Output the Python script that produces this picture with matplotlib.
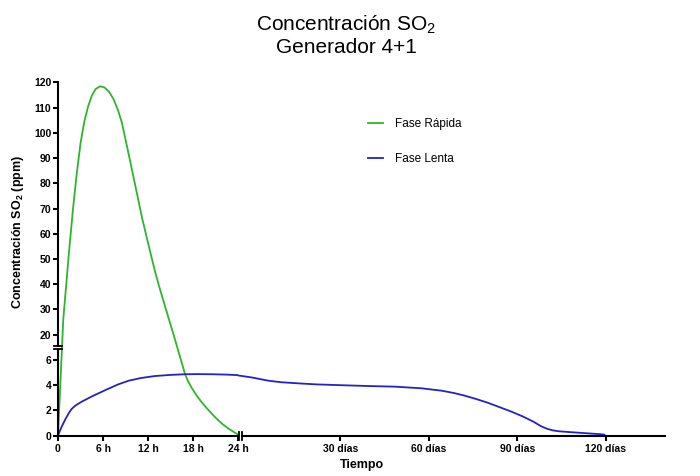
import numpy as np
import matplotlib
matplotlib.use('Agg')
import matplotlib.pyplot as plt
from matplotlib.transforms import blended_transform_factory as blend

plt.rcParams['font.family'] = ['Liberation Sans', 'DejaVu Sans']
plt.rcParams['mathtext.fontset'] = 'custom'
plt.rcParams['mathtext.rm'] = 'Liberation Sans'
plt.rcParams['mathtext.bf'] = 'Liberation Sans:bold'

# datos
green_h = [0, 0.7, 1.1, 1.5, 2.0, 2.5, 3.0, 3.5, 4.0, 4.5, 5.0, 5.6, 6.2, 6.8,
           7.4, 8.0, 8.5, 8.9, 9.4, 10.0, 10.6, 11.2, 11.8, 12.3, 12.9, 13.4,
           14.4, 15.36, 16.9, 17.3, 17.8, 18.4, 19.0, 19.6, 20.2, 20.9, 21.8,
           22.7, 23.4, 24.0]
green_v = [0, 26, 40, 54, 70, 84, 96, 104.5, 110.5, 114.8, 117.4, 118.5, 118,
           116.3, 113.3, 108.8, 104, 98.5, 91.5, 83, 74.5, 66, 58.5, 52.3, 45,
           39.6, 29.5, 20, 4.85, 4.3, 3.75, 3.2, 2.72, 2.29, 1.9, 1.45, 0.95,
           0.55, 0.28, 0.07]

blue_h = [0, 0.4, 0.93, 1.4, 1.8, 2.2, 2.5, 3.2, 4.5, 6.3, 8.0, 9.4, 11.0, 12.9,
          15.0, 16.9, 18.5, 20.5, 22.5, 24.0]
blue_hv = [0, 0.6, 1.24, 1.75, 2.1, 2.32, 2.45, 2.7, 3.1, 3.6, 4.05, 4.34, 4.55,
           4.71, 4.8, 4.85, 4.86, 4.85, 4.82, 4.78]

blue_d = [-4.4, 0, 5.7, 10, 15.9, 22, 28.3, 39.6, 48.6, 57.6, 64.4, 68.3, 72,
          76, 80, 84, 88, 92, 95.5, 98, 100, 102, 104, 108, 113, 118, 119.5]
blue_dv = [4.75, 4.6, 4.34, 4.22, 4.13, 4.05, 4.0, 3.92, 3.87, 3.74, 3.55, 3.38,
           3.17, 2.9, 2.6, 2.25, 1.9, 1.5, 1.1, 0.75, 0.55, 0.42, 0.35, 0.28,
           0.2, 0.12, 0.08]

h_ticks = [0, 6, 12, 18, 24]
h_labels = ['0', '6 h', '12 h', '18 h', '24 h']
d_ticks = [30, 60, 90, 120]
d_labels = ['30 días', '60 días', '90 días', '120 días']
y_ticks = [0, 2, 4, 6, 20, 30, 40, 50, 60, 70, 80, 90, 100, 110, 120]

GREEN = '#2db52d'
BLUE = '#2222c8'

# eje y cortado: 0-6.82 abajo, 15.56-120 arriba
LO, HI = 6.82, 15.56
A, G, B = 12.67, 3.6 / (HI - LO), 2.52


def y_fwd(v):
    v = np.asarray(v, dtype=float)
    return np.where(v <= LO, v * A,
                    np.where(v <= HI, LO * A + (v - LO) * G,
                             LO * A + (HI - LO) * G + (v - HI) * B))


def y_inv(p):
    p = np.asarray(p, dtype=float)
    p1 = LO * A
    p2 = p1 + (HI - LO) * G
    return np.where(p <= p1, p / A,
                    np.where(p <= p2, LO + (p - p1) / G, HI + (p - p2) / B))


fig = plt.figure(figsize=(7, 4.76), dpi=100)
bottom = 1 - 435.7 / 476
height = (435.7 - 82.5) / 476
ax1 = fig.add_axes([58 / 700, bottom, (238.5 - 58) / 700, height])
ax2 = fig.add_axes([242 / 700, bottom, (665 - 242) / 700, height], sharey=ax1)

ax1.set_yscale('function', functions=(y_fwd, y_inv))

lw = 1.3
l1, = ax1.plot(green_h, green_v, color=GREEN, lw=lw, label='Fase Rápida')
l2, = ax1.plot(blue_h, blue_hv, color=BLUE, lw=lw, label='Fase Lenta')
ax2.plot(blue_d, blue_dv, color=BLUE, lw=lw, clip_on=False)

ax1.set_xlim(0, 24)
ax2.set_xlim(-3.25, 140)
ax1.set_ylim(0, 120)

for ax in (ax1, ax2):
    ax.spines['top'].set_visible(False)
    ax.spines['right'].set_visible(False)
    ax.spines['bottom'].set_linewidth(1.5)
    ax.spines['left'].set_linewidth(1.5)
    ax.tick_params(width=1.5, length=3.8, labelsize=7.5)
ax2.spines['left'].set_visible(False)
ax2.tick_params(axis='y', left=False, labelleft=False)

ax1.set_xticks(h_ticks)
ax1.set_xticklabels(h_labels, fontweight='bold')
ax2.set_xticks(d_ticks)
ax2.set_xticklabels(d_labels, fontweight='bold')
ax1.set_yticks(y_ticks)
ax1.set_yticklabels([str(v) for v in y_ticks], fontweight='bold')
ax1.tick_params(axis='y', pad=1)
ax1.tick_params(axis='x', pad=2)
ax2.tick_params(axis='x', pad=2)

# marcas de corte
ax1.spines['left'].set_bounds(HI, 120)
tr = blend(ax1.transAxes, ax1.transData)
ax1.plot([0, 0], [0, LO], color='k', lw=1.5, transform=tr, clip_on=False,
         solid_capstyle='butt')
for yb in (LO, HI):
    ax1.plot([-0.02, 0.02], [yb, yb], color='k', lw=1.3, transform=tr,
             clip_on=False)
trx = blend(ax1.transData, ax1.transAxes)
ax1.plot([24.1, 24.1], [-0.011, 0.011], color='k', lw=1.3, transform=trx,
         clip_on=False)
trx2 = blend(ax2.transData, ax2.transAxes)
ax2.plot([-3.15, -3.15], [-0.011, 0.011], color='k', lw=1.3, transform=trx2,
         clip_on=False)

# textos
fig.text(346 / 700, 1 - 30 / 476, 'Concentración SO$_2$', ha='center',
         va='baseline', fontsize=15)
fig.text(346 / 700, 1 - 53 / 476, 'Generador 4+1', ha='center',
         va='baseline', fontsize=15)
fig.text(18 / 700, 1 - 232 / 476, r'Concentración SO$_\mathbf{2}$ (ppm)',
         rotation=90, ha='center', va='center', fontsize=9, fontweight='bold')
fig.text(362 / 700, 1 - 465 / 476, 'Tiempo', ha='center', va='center',
         fontsize=9, fontweight='bold')

fig.legend(handles=[l1, l2], loc='upper left',
           bbox_to_anchor=(368 / 700, 1 - 118 / 476), frameon=False,
           fontsize=8.5, handlelength=1.3, handletextpad=1.0,
           labelspacing=1.95, borderpad=0, borderaxespad=0)

fig.savefig('out.png', dpi=100)
